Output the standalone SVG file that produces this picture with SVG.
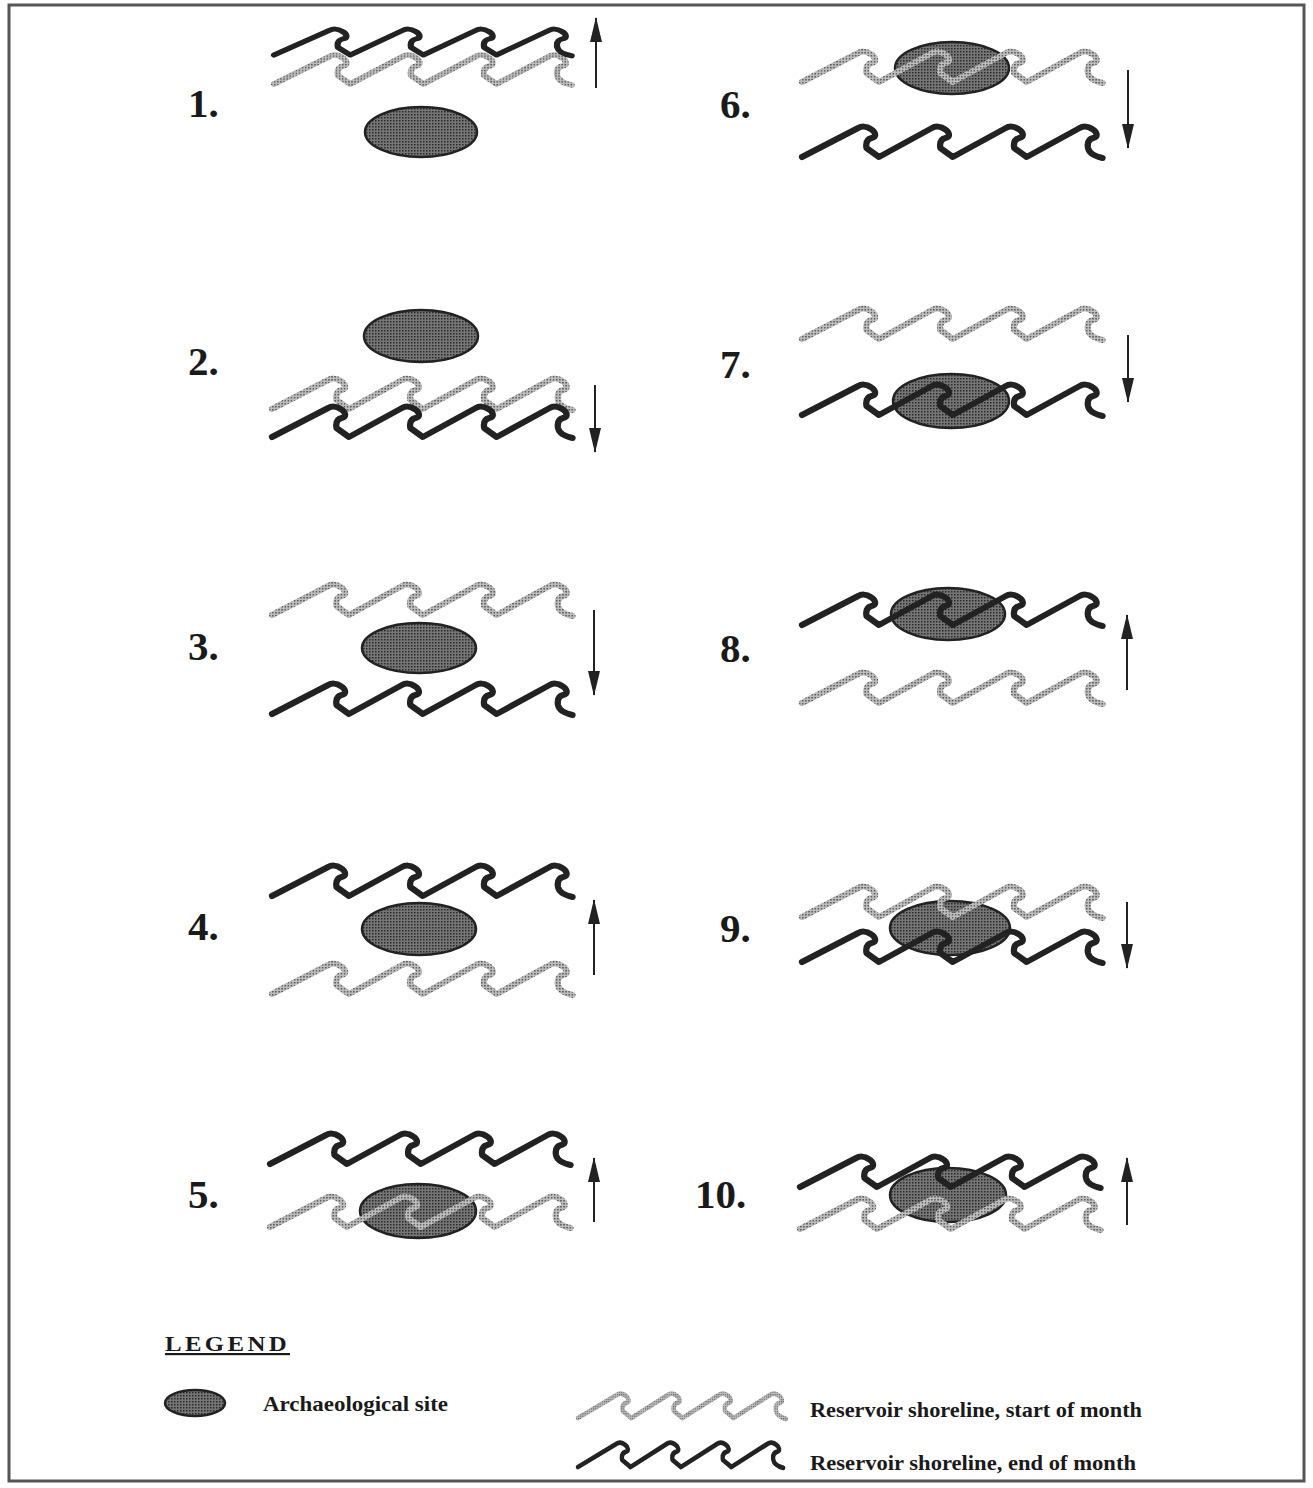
<svg xmlns="http://www.w3.org/2000/svg" xmlns:xlink="http://www.w3.org/1999/xlink" width="1313" height="1488" viewBox="0 0 1313 1488">
<defs>
<style>
.lbl{font-family:"Liberation Serif","Times New Roman",serif;font-weight:bold;font-size:41px;fill:#1a1a1a}
.leg{font-family:"Liberation Serif","Times New Roman",serif;font-weight:bold;font-size:22px;fill:#1a1a1a}
.site{fill:url(#dots);stroke:#222;stroke-width:2.5}
.end{fill:none;stroke:#222;stroke-width:6;stroke-linecap:round;stroke-linejoin:round}
.start{fill:none;stroke:url(#grain);stroke-width:6;stroke-linecap:round;stroke-linejoin:round}
.arr{stroke:#222;stroke-width:2;fill:none}
</style>
<pattern id="dots" width="3" height="3" patternUnits="userSpaceOnUse">
<rect width="3" height="3" fill="#767676"/>
<rect x="0" y="0" width="1.5" height="1.5" fill="#2a2a2a"/>
</pattern>
<pattern id="grain" width="3" height="3" patternUnits="userSpaceOnUse">
<rect width="3" height="3" fill="#bdbdbd"/>
<rect x="0" y="0" width="1.5" height="1.5" fill="#5e5e5e"/>
</pattern>
<path id="wave" d="M0,0 L54,-29 C57,-31 62,-31 66,-28 C71,-25 72,-20 67,-19 C63,-18 61,-15 62,-9 L74,0 L125,-29 C128,-31 133,-31 137,-28 C142,-25 143,-20 138,-19 C134,-18 132,-15 133,-9 L145,0 L196,-29 C199,-31 204,-31 208,-28 C213,-25 214,-20 209,-19 C205,-18 203,-15 204,-9 L216,0 L267,-29 C270,-31 275,-31 279,-28 C284,-25 285,-20 280,-19 C276,-18 274,-15 275,-9 C276,-4 280,-1 289,1"/>
<marker id="head" markerUnits="userSpaceOnUse" markerWidth="26" markerHeight="12" refX="24" refY="6" orient="auto">
<path d="M0,0 L25,6 L0,12 Z" fill="#222"/>
</marker>
</defs>
<rect width="1313" height="1488" fill="#fff"/>
<rect id="frame" x="9" y="5" width="1295" height="1476" fill="none" stroke="#555" stroke-width="3"/>

<g id="panel1">
<text class="lbl" x="188" y="117">1.</text>
<ellipse class="site" cx="421" cy="132" rx="56" ry="25"/>
<use xlink:href="#wave" class="start" transform="translate(274,84) scale(1.03,0.95)"/>
<use xlink:href="#wave" class="end" transform="translate(274,55) scale(1.03,0.85)"/>
</g>
<g id="panel2">
<text class="lbl" x="188" y="375">2.</text>
<ellipse class="site" cx="421" cy="336" rx="57" ry="26"/>
<use xlink:href="#wave" class="start" transform="translate(272,409) scale(1.04,1)"/>
<use xlink:href="#wave" class="end" transform="translate(272,437) scale(1.04,1)"/>
</g>
<g id="panel3">
<text class="lbl" x="188" y="660">3.</text>
<ellipse class="site" cx="419" cy="648" rx="57" ry="25"/>
<use xlink:href="#wave" class="start" transform="translate(272,615) scale(1.04,1)"/>
<use xlink:href="#wave" class="end" transform="translate(272,714) scale(1.04,1)"/>
</g>
<g id="panel4">
<text class="lbl" x="188" y="940">4.</text>
<ellipse class="site" cx="419" cy="929" rx="57" ry="26"/>
<use xlink:href="#wave" class="start" transform="translate(272,994) scale(1.04,1)"/>
<use xlink:href="#wave" class="end" transform="translate(272,896) scale(1.04,1)"/>
</g>
<g id="panel5">
<text class="lbl" x="188" y="1208">5.</text>
<ellipse class="site" cx="418" cy="1211" rx="58" ry="27"/>
<use xlink:href="#wave" class="start" transform="translate(270,1227) scale(1.04,1)"/>
<use xlink:href="#wave" class="end" transform="translate(270,1164) scale(1.04,1)"/>
</g>
<g id="panel6">
<text class="lbl" x="720" y="118">6.</text>
<ellipse class="site" cx="952" cy="68" rx="57" ry="26"/>
<use xlink:href="#wave" class="start" transform="translate(802,82) scale(1.04,1)"/>
<use xlink:href="#wave" class="end" transform="translate(802,157) scale(1.04,1)"/>
</g>
<g id="panel7">
<text class="lbl" x="720" y="378">7.</text>
<ellipse class="site" cx="951" cy="401" rx="58" ry="27"/>
<use xlink:href="#wave" class="start" transform="translate(802,339) scale(1.04,1)"/>
<use xlink:href="#wave" class="end" transform="translate(802,415) scale(1.04,1)"/>
</g>
<g id="panel8">
<text class="lbl" x="720" y="662">8.</text>
<ellipse class="site" cx="948" cy="614" rx="57" ry="26"/>
<use xlink:href="#wave" class="start" transform="translate(802,703) scale(1.04,1)"/>
<use xlink:href="#wave" class="end" transform="translate(802,625) scale(1.04,1)"/>
</g>
<g id="panel9">
<text class="lbl" x="720" y="942">9.</text>
<ellipse class="site" cx="950" cy="928" rx="60" ry="27"/>
<use xlink:href="#wave" class="start" transform="translate(802,917) scale(1.04,1)"/>
<use xlink:href="#wave" class="end" transform="translate(802,962) scale(1.04,1)"/>
</g>
<g id="panel10">
<text class="lbl" x="695" y="1208">10.</text>
<ellipse class="site" cx="948" cy="1195" rx="58" ry="27"/>
<use xlink:href="#wave" class="start" transform="translate(800,1229) scale(1.04,1)"/>
<use xlink:href="#wave" class="end" transform="translate(800,1187) scale(1.04,1)"/>
</g>

<g id="arrows">
<line class="arr" x1="596" y1="88" x2="596" y2="18" marker-end="url(#head)"/>
<line class="arr" x1="595" y1="385" x2="595" y2="452" marker-end="url(#head)"/>
<line class="arr" x1="594" y1="610" x2="594" y2="695" marker-end="url(#head)"/>
<line class="arr" x1="594" y1="975" x2="594" y2="900" marker-end="url(#head)"/>
<line class="arr" x1="594" y1="1222" x2="594" y2="1158" marker-end="url(#head)"/>
<line class="arr" x1="1128" y1="70" x2="1128" y2="148" marker-end="url(#head)"/>
<line class="arr" x1="1128" y1="335" x2="1128" y2="402" marker-end="url(#head)"/>
<line class="arr" x1="1127" y1="690" x2="1127" y2="615" marker-end="url(#head)"/>
<line class="arr" x1="1127" y1="902" x2="1127" y2="968" marker-end="url(#head)"/>
<line class="arr" x1="1127" y1="1225" x2="1127" y2="1158" marker-end="url(#head)"/>
</g>

<g id="legend">
<text class="leg" x="165" y="1351" font-weight="normal" letter-spacing="3" textLength="125" lengthAdjust="spacingAndGlyphs" text-decoration="underline">LEGEND</text>
<ellipse class="site" cx="195" cy="1403" rx="30" ry="13"/>
<text class="leg" x="263" y="1411" textLength="185" lengthAdjust="spacingAndGlyphs">Archaeological site</text>
<use xlink:href="#wave" class="start" transform="translate(578,1418) scale(0.72,0.8)"/>
<text class="leg" x="810" y="1417" textLength="332" lengthAdjust="spacingAndGlyphs">Reservoir shoreline, start of month</text>
<use xlink:href="#wave" class="end" transform="translate(578,1467) scale(0.71,0.8)"/>
<text class="leg" x="810" y="1470" textLength="326" lengthAdjust="spacingAndGlyphs">Reservoir shoreline, end of month</text>
</g>
</svg>
